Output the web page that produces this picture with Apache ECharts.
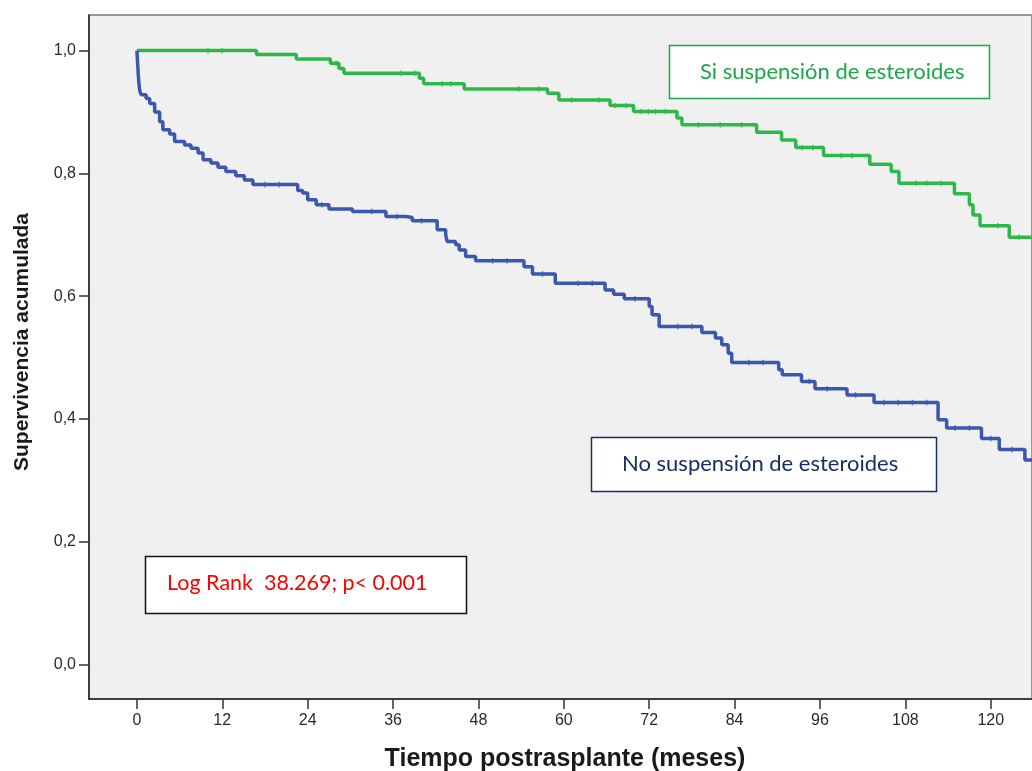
<!DOCTYPE html>
<html>
<head>
<meta charset="utf-8">
<script src="https://cdn.jsdelivr.net/npm/echarts@6/dist/echarts.min.js"></script>
<style>
html,body{margin:0;padding:0;background:#fff;}
#chart{width:1032px;height:771px;}
</style>
</head>
<body>
<div id="chart"></div>
<script>
// ---- Data (Kaplan-Meier steps: [months, cumulative survival after event]) ----
const siTimes = [0, 16.8, 22.4, 27.2, 28.4, 29.1, 39.7, 40.3, 46.0, 57.7, 59.3, 66.5, 69.8, 75.9, 76.6, 87.1, 90.6, 92.6, 96.5, 103.0, 106.0, 107.1, 114.9, 117.0, 117.5, 118.5, 122.6, 125.8];
const siSurv  = [1.0, 0.9935, 0.9865, 0.9795, 0.971, 0.963, 0.955, 0.9458, 0.9376, 0.9306, 0.9197, 0.9104, 0.9007, 0.890, 0.879, 0.867, 0.8545, 0.842, 0.829, 0.815, 0.803, 0.784, 0.7666, 0.7487, 0.732, 0.7145, 0.696, 0.696];

const noTimes = [0, 0.1, 0.2, 0.3, 0.4, 0.6, 1.3, 1.8, 2.5, 3.2, 3.65, 4.6, 5.3, 6.7, 7.6, 8.6, 9.3, 10.4, 11.4, 12.5, 13.9, 15.1, 16.3, 22.6, 23.3, 24.0, 25.2, 27.0, 30.3, 35.0, 37.8, 38.7, 42.2, 43.4, 43.6, 44.8, 45.3, 46.2, 47.6, 54.4, 55.6, 58.8, 65.8, 67.0, 68.5, 72.0, 72.4, 73.4, 79.4, 81.3, 82.2, 83.1, 83.6, 90.2, 90.7, 93.4, 95.3, 99.8, 103.6, 112.6, 113.8, 118.7, 121.2, 124.8, 125.8];
const noSurv  = [1.0, 0.98, 0.96, 0.945, 0.935, 0.928, 0.922, 0.914, 0.900, 0.884, 0.871, 0.864, 0.852, 0.846, 0.841, 0.833, 0.822, 0.817, 0.810, 0.803, 0.796, 0.789, 0.782, 0.772, 0.768, 0.757, 0.749, 0.742, 0.738, 0.7296, 0.728, 0.7226, 0.708, 0.700, 0.689, 0.6835, 0.675, 0.6645, 0.6575, 0.648, 0.636, 0.621, 0.610, 0.603, 0.5956, 0.583, 0.5695, 0.5505, 0.5407, 0.5316, 0.5207, 0.507, 0.492, 0.480, 0.4718, 0.461, 0.449, 0.439, 0.4267, 0.3985, 0.385, 0.368, 0.350, 0.333, 0.333];

// censored observations (months)
const siCensored = [10, 12, 28.0, 37.1, 39.1, 42.9, 44.1, 53.7, 56.5, 61.1, 64.9, 67.2, 68.7, 70.9, 71.9, 72.9, 74.3, 78.9, 82, 85, 93.5, 95, 99, 100.5, 109.5, 111, 113, 121, 124];
const noCensored = [18, 20, 26, 33, 36.5, 40, 50, 52, 57, 62, 64, 70, 76, 78, 86, 88, 94.5, 97, 101, 105, 107, 109, 111, 115, 117, 120, 123];

const xTicks = [0, 12, 24, 36, 48, 60, 72, 84, 96, 108, 120];
const yTicks = [0, 0.2, 0.4, 0.6, 0.8, 1.0];

const labelSi = 'Si suspensión de esteroides';
const labelNo = 'No suspensión de esteroides';
const labelLogRank = 'Log Rank  38.269; p< 0.001';
const xTitle = 'Tiempo postrasplante (meses)';
const yTitle = 'Supervivencia acumulada';

// ---- build ----
function zipPts(t, s) { return t.map((v, i) => [v, s[i]]); }
function survAt(t, times, surv) {
  let v = surv[0];
  for (let i = 0; i < times.length; i++) { if (times[i] <= t) v = surv[i]; else break; }
  return v;
}
const GREEN = '#2eb84b';
const BLUE = '#3b57b0';

const chart = echarts.init(document.getElementById('chart'), null, {renderer: 'canvas'});
chart.setOption({
  animation: false,
  backgroundColor: '#ffffff',
  grid: {left: 89, top: 15, right: -2, bottom: 72, show: true, backgroundColor: '#f0f0f0', borderColor: '#7a7a7a', borderWidth: 1.5},
  xAxis: {
    type: 'value', min: -6.73, max: 125.8,
    axisLine: {show: true, onZero: false, lineStyle: {color: '#222', width: 1.5}},
    axisTick: {show: true, inside: false, length: 10, customValues: xTicks, lineStyle: {color: '#333', width: 1.5}},
    axisLabel: {customValues: xTicks, margin: 14, fontFamily: 'Liberation Sans', fontSize: 16, color: '#2a2a2a',
                formatter: v => String(v)},
    splitLine: {show: false}
  },
  yAxis: {
    type: 'value', min: -0.0564, max: 1.058,
    axisLine: {show: true, onZero: false, lineStyle: {color: '#222', width: 1.5}},
    axisTick: {show: true, inside: false, length: 10, customValues: yTicks, lineStyle: {color: '#333', width: 1.5}},
    axisLabel: {customValues: yTicks, margin: 13, fontFamily: 'Liberation Sans', fontSize: 16, color: '#2a2a2a',
                formatter: v => v.toFixed(1).replace('.', ',')},
    splitLine: {show: false}
  },
  series: [
    {type: 'line', name: labelSi, step: 'end', data: zipPts(siTimes, siSurv), showSymbol: false, symbol: 'none',
     lineStyle: {color: GREEN, width: 3.5}, z: 3},
    {type: 'line', name: labelNo, step: 'end', data: zipPts(noTimes, noSurv), showSymbol: false, symbol: 'none',
     lineStyle: {color: BLUE, width: 3.5}, z: 3},
    {type: 'scatter', data: siCensored.map(t => [t, survAt(t, siTimes, siSurv)]), symbol: 'rect', symbolSize: [1.5, 5.5],
     itemStyle: {color: GREEN}, z: 4},
    {type: 'scatter', data: noCensored.map(t => [t, survAt(t, noTimes, noSurv)]), symbol: 'rect', symbolSize: [1.5, 5.5],
     itemStyle: {color: BLUE}, z: 4}
  ],
  graphic: [
    {type: 'text', x: 565, y: 759, style: {text: xTitle, font: 'bold 25px "Liberation Sans"', fill: '#1a1a1a', align: 'center', verticalAlign: 'middle'}},
    {type: 'text', x: 22, y: 342, rotation: Math.PI / 2, style: {text: yTitle, font: 'bold 21px "Liberation Sans"', fill: '#1a1a1a', align: 'center', verticalAlign: 'middle'}},
    {type: 'rect', shape: {x: 669.5, y: 45.5, width: 320, height: 53}, style: {fill: '#ffffff', stroke: '#1aa84a', lineWidth: 1.5}, z: 10},
    {type: 'text', x: 700, y: 72, style: {text: labelSi, font: '22px Lato', fill: '#1aa84a', align: 'left', verticalAlign: 'middle'}, z: 11},
    {type: 'rect', shape: {x: 591.5, y: 437.5, width: 345, height: 54}, style: {fill: '#ffffff', stroke: '#1c2d66', lineWidth: 1.5}, z: 10},
    {type: 'text', x: 622, y: 464, style: {text: labelNo, font: '22px Lato', fill: '#1c2d66', align: 'left', verticalAlign: 'middle'}, z: 11},
    {type: 'rect', shape: {x: 145.5, y: 556.5, width: 321, height: 57}, style: {fill: '#ffffff', stroke: '#111', lineWidth: 1.5}, z: 10},
    {type: 'text', x: 167, y: 583, style: {text: labelLogRank, font: '21.5px Lato', fill: '#ff0000', align: 'left', verticalAlign: 'middle'}, z: 11}
  ]
});
</script>
</body>
</html>
